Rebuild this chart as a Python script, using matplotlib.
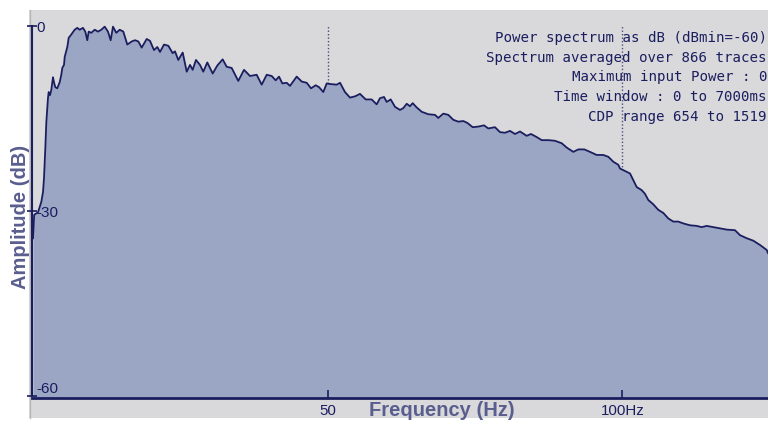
import matplotlib
matplotlib.use("Agg")
import matplotlib.pyplot as plt
from matplotlib.patches import Rectangle
from matplotlib.lines import Line2D

# ===================== 数据：平均功率谱 (dB) =====================
freq = [0.0, 0.2, 0.85, 1.41, 1.70, 1.87, 2.09, 2.26, 2.54, 2.66, 2.88, 3.10, 3.39, 3.56,
        3.78, 4.12, 4.53, 4.80, 4.97, 5.26, 5.38, 5.82, 6.06, 6.40, 7.07, 7.52, 7.92, 8.48,
        8.87, 9.21, 9.45, 9.89, 10.47, 11.03, 11.59, 12.16, 12.72, 13.18, 13.57, 14.13, 14.71,
        15.32, 16.00, 16.75, 17.31, 17.87, 18.44, 19.29, 19.85, 20.53, 21.09, 21.55, 22.23,
        22.96, 23.70, 24.09, 24.65, 25.40, 26.08, 26.64, 27.09, 27.65, 28.33, 28.89, 29.57,
        30.49, 31.27, 32.18, 32.86, 33.71, 34.83, 35.80, 36.82, 37.95, 38.80, 39.65, 40.50,
        41.18, 41.74, 42.30, 43.04, 43.60, 44.74, 45.59, 46.44, 47.17, 47.96, 48.52, 49.25,
        49.83, 50.39, 51.53, 52.09, 52.93, 53.78, 54.63, 55.48, 56.45, 57.46, 58.31, 58.87,
        59.55, 60.01, 60.69, 61.42, 62.27, 62.83, 63.40, 63.96, 64.42, 65.10, 65.95, 67.07,
        68.20, 68.76, 69.61, 70.46, 71.31, 72.16, 73.01, 73.69, 74.60, 75.55, 76.52, 77.25,
        78.38, 79.23, 80.08, 80.93, 81.78, 82.63, 83.76, 84.49, 85.46, 86.31, 87.43, 88.56,
        89.70, 90.55, 91.67, 92.52, 93.54, 94.50, 95.64, 96.76, 97.61, 98.46, 99.31, 99.59,
        100.44, 101.29, 101.85, 102.42, 103.27, 103.83, 104.39, 105.24, 106.09, 106.94,
        107.79, 108.63, 109.48, 110.33, 111.47, 112.60, 113.45, 114.30, 115.42, 116.56,
        117.69, 119.10, 119.95, 121.09, 122.21, 123.35, 124.48, 124.70]
amp = [-34.4, -30.6, -30.2, -28.5, -26.9, -24.6, -19.8, -15.6, -11.7, -10.7, -11.2, -10.4,
       -8.3, -9.1, -9.9, -10.1, -9.1, -7.9, -6.8, -6.3, -5.0, -3.4, -1.9, -1.5, -0.6, -0.3,
       -0.6, -0.3, -0.9, -2.3, -0.9, -1.1, -0.6, -0.9, -0.6, -0.1, -0.9, -2.3, -0.1, -1.1,
       -0.6, -0.9, -3.0, -2.5, -2.3, -2.5, -3.5, -2.1, -2.4, -3.9, -3.4, -4.2, -3.0, -3.2,
       -4.4, -4.1, -5.5, -4.3, -7.4, -6.3, -7.1, -5.5, -6.3, -7.4, -5.9, -7.7, -6.4, -5.4,
       -6.6, -6.8, -8.9, -7.1, -8.1, -7.9, -9.5, -7.9, -8.1, -8.8, -8.2, -9.3, -9.2, -9.7,
       -8.2, -9.0, -9.2, -10.1, -9.6, -9.9, -10.7, -9.3, -9.4, -9.5, -9.2, -10.7, -11.6,
       -11.4, -11.0, -11.9, -11.9, -12.7, -11.7, -11.5, -12.3, -11.9, -13.1, -13.6, -13.3,
       -12.6, -13.0, -12.5, -13.2, -13.9, -14.3, -14.4, -14.9, -14.2, -14.4, -15.2, -15.5,
       -15.4, -15.7, -16.4, -16.3, -16.1, -16.6, -16.4, -17.2, -17.3, -17.0, -17.5, -17.1,
       -17.8, -17.5, -18.0, -18.5, -18.5, -18.6, -19.0, -19.7, -20.4, -20.0, -20.0, -20.4,
       -20.9, -20.9, -21.2, -22.0, -22.5, -23.1, -23.5, -23.9, -25.0, -26.1, -26.6, -27.2,
       -28.2, -28.9, -29.8, -30.3, -31.2, -31.7, -31.7, -32.0, -32.3, -32.4, -32.6, -32.4,
       -32.6, -32.8, -33.0, -33.1, -33.9, -34.4, -34.8, -35.5, -36.3, -36.8]

yticks = [0, -30, -60]
ytick_labels = ["0", "-30", "-60"]
xticks = [50, 100]
xtick_labels = ["50", "100Hz"]
info_lines = ["Power spectrum as dB (dBmin=-60)",
              "Spectrum averaged over 866 traces",
              "Maximum input Power : 0",
              "Time window : 0 to 7000ms",
              "CDP range 654 to 1519"]

# ===================== 颜色 =====================
bg_gray = "#d9d9dc"
fill_col = "#9ba6c5"
navy = "#1b1e5e"
label_col = "#5a5e8e"

W, H = 768, 424
fig = plt.figure(figsize=(W / 100, H / 100), dpi=100)
fig.patch.set_facecolor("white")

# 灰色面板（放在坐标轴之下）
fig.patches.append(Rectangle((29 / W, 1 - 418 / H), (W - 29) / W, 408 / H,
                             transform=fig.transFigure, facecolor=bg_gray,
                             edgecolor="none", zorder=-2))
fig.lines.append(Line2D([29.5 / W, 29.5 / W], [1 - 418 / H, 1 - 10 / H],
                        transform=fig.transFigure, color="#b8b8bc", lw=1, zorder=-1))

ax = fig.add_axes([32 / W, 1 - 398 / H, (W - 32) / W, 388 / H])
ax.set_facecolor("none")
ax.set_axisbelow(False)
ax.set_xlim(-0.17, 124.7)
ax.set_ylim(-60.3, 2.6)

# 参考虚线
for xv in xticks:
    ax.plot([xv, xv], [-60, 0.2], color="#4a4e7a", lw=1, ls=(0, (1, 1.5)), zorder=1)

ax.fill_between(freq, amp, -60.3, color=fill_col, lw=0, zorder=2)
ax.plot(freq, amp, color=navy, lw=1.3, zorder=3)

# 坐标轴
for s in ["top", "right"]:
    ax.spines[s].set_visible(False)
ax.spines["left"].set_bounds(-60, 0)
ax.spines["left"].set_color(navy)
ax.spines["bottom"].set_color(navy)
ax.spines["left"].set_linewidth(1.5)
ax.spines["bottom"].set_linewidth(2)
ax.spines["left"].set_zorder(4)
ax.spines["bottom"].set_zorder(4)

ax.set_yticks(yticks)
ax.set_yticklabels(ytick_labels, family="Liberation Sans", fontsize=11, color=navy)
ax.tick_params(axis="y", direction="inout", length=7, width=1.2, color=navy, pad=-6.5)
for lbl in ax.get_yticklabels():
    lbl.set_ha("left")
ax.get_yticklabels()[-1].set_va("bottom")

ax.set_xticks(xticks)
ax.set_xticklabels(xtick_labels, family="Liberation Sans", fontsize=10.8, color=navy)
ax.tick_params(axis="x", direction="in", length=6, width=1.2, color=navy, pad=4)

# 轴标题
fig.text(21 / W, 1 - 217 / H, "Amplitude (dB)", rotation=90, ha="center", va="center",
         family="Liberation Sans", fontweight="bold", fontsize=14.5, color=label_col)
fig.text(442 / W, 1 - 411 / H, "Frequency (Hz)", ha="center", va="center",
         family="Liberation Sans", fontweight="bold", fontsize=14.5, color=label_col)

# 说明文字
for i, line in enumerate(info_lines):
    fig.text(767 / W, 1 - (38 + 19.7 * i) / H, line, ha="right", va="center",
             family="DejaVu Sans Mono", fontsize=10.2, color=navy, zorder=5)

fig.savefig("out.png", dpi=100)
